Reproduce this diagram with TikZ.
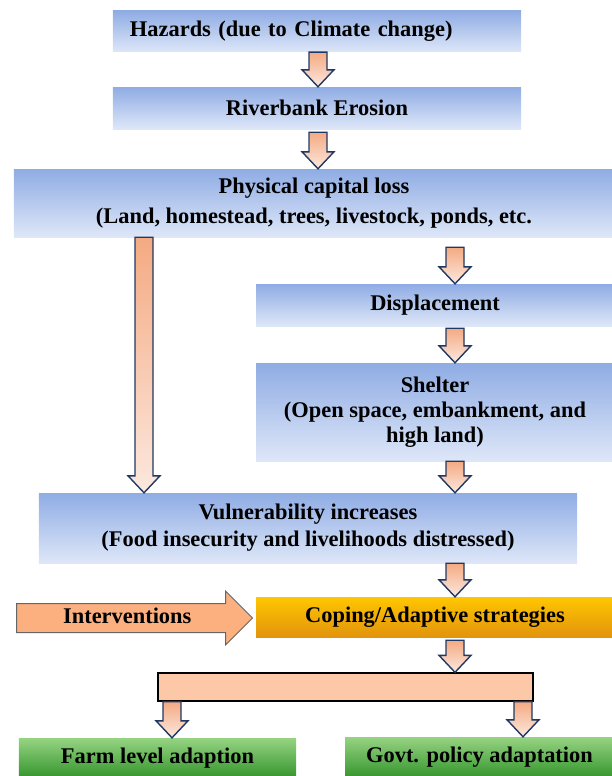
\documentclass[tikz,border=0pt]{standalone}
\usepackage{fontspec}
\setmainfont{Liberation Serif}
\usepackage{tikz}
\usetikzlibrary{calc, shapes.arrows}
\definecolor{boxtop}{RGB}{143,172,228}
\definecolor{boxbot}{RGB}{222,231,248}
\definecolor{arrtop}{RGB}{244,170,130}
\definecolor{arrbot}{RGB}{252,232,222}
\definecolor{arrline}{RGB}{31,56,100}
\definecolor{copetop}{RGB}{255,198,0}
\definecolor{copebot}{RGB}{226,148,12}
\definecolor{farmtop}{RGB}{150,212,130}
\definecolor{farmbot}{RGB}{52,148,44}
\definecolor{interfill}{RGB}{252,176,128}
\definecolor{splitfill}{RGB}{252,200,168}
\tikzstyle{bluebox}=[rectangle, top color=boxtop, bottom color=boxbot, inner sep=0, align=center, font=\bfseries\fontsize{22.5}{27}\selectfont]
\tikzstyle{copebox}=[bluebox, top color=copetop, bottom color=copebot]
\tikzstyle{greenbox}=[bluebox, top color=farmtop, bottom color=farmbot]
\tikzstyle{splitbox}=[rectangle, draw=black, line width=1.3bp, fill=splitfill, inner sep=0]
\tikzstyle{interarrow}=[single arrow, draw=black!60, line width=1bp, fill=interfill, inner xsep=0, inner ysep=3.5bp, text height=16bp, text depth=5bp, single arrow head extend=12.5bp, minimum width=53bp, minimum height=236bp, font=\bfseries\fontsize{22.5}{27}\selectfont]
\tikzstyle{fatarrow}=[draw=arrline, line width=1.4bp, top color=arrtop, bottom color=arrbot]
% block arrow straight down: [gap]{x}{from}{to}
\newcommand{\fatdown}[4][0]{%
\path[fatarrow] let \p3=(#2,0), \p1=(#3.south), \p2=(#4.north) in
 (\x3-9bp,\y1-#1bp) -- (\x3+9bp,\y1-#1bp) -- (\x3+9bp,\y2+17bp) -- (\x3+16bp,\y2+17bp)
 -- (\x3,\y2) -- (\x3-16bp,\y2+17bp) -- (\x3-9bp,\y2+17bp) -- cycle;}

\begin{document}
\begin{tikzpicture}[x=1bp, y=-1bp]
\useasboundingbox (0,0) rectangle (612,776);
\clip (0,0) rectangle (612,776);
\node[bluebox, minimum width=408bp, minimum height=41bp, text width=374bp, align=left] (hazards) at (317,31.5) {Hazards (due to Climate change)};
\node[bluebox, minimum width=408bp, minimum height=42bp] (erosion) at (317,108) {Riverbank Erosion};
\node[bluebox, minimum width=600bp, minimum height=68bp, font=\bfseries\fontsize{22.5}{30}\selectfont] (loss) at (314,203) {Physical capital loss\\(Land, homestead, trees, livestock, ponds, etc.};
\node[bluebox, minimum width=358bp, minimum height=42bp] (displace) at (435,305) {Displacement};
\node[bluebox, minimum width=358bp, minimum height=98bp, font=\bfseries\fontsize{22.5}{25}\selectfont] (shelter) at (435,412) {Shelter\\(Open space, embankment, and\\high land)};
\node[bluebox, minimum width=538bp, minimum height=70bp] (vulner) at (308,528) {Vulnerability increases\\(Food insecurity and livelihoods distressed)};
\node[copebox, minimum width=358bp, minimum height=40bp] (coping) at (435,617) {Coping/Adaptive strategies};
\node[splitbox, minimum width=375bp, minimum height=28bp] (split) at (345.5,687) {};
\node[greenbox, minimum width=277bp, minimum height=40bp] (farm) at (157.5,758) {Farm level adaption};
\node[greenbox, minimum width=269bp, minimum height=41bp] (govt) at (479.5,757.5) {Govt. policy adaptation};
\node[interarrow, anchor=tail] (interv) at (16,618) {Interventions};

\fatdown{318}{hazards}{erosion}
\fatdown[3]{318}{erosion}{loss}
\fatdown[10]{455}{loss}{displace}
\fatdown[2]{455}{displace}{shelter}
\fatdown{455}{shelter}{vulner}
\fatdown{455}{vulner}{coping}
\fatdown[3]{455}{coping}{split}
\fatdown{144}{loss}{vulner}
\fatdown{172}{split}{farm}
\fatdown{523}{split}{govt}
\end{tikzpicture}
\end{document}
